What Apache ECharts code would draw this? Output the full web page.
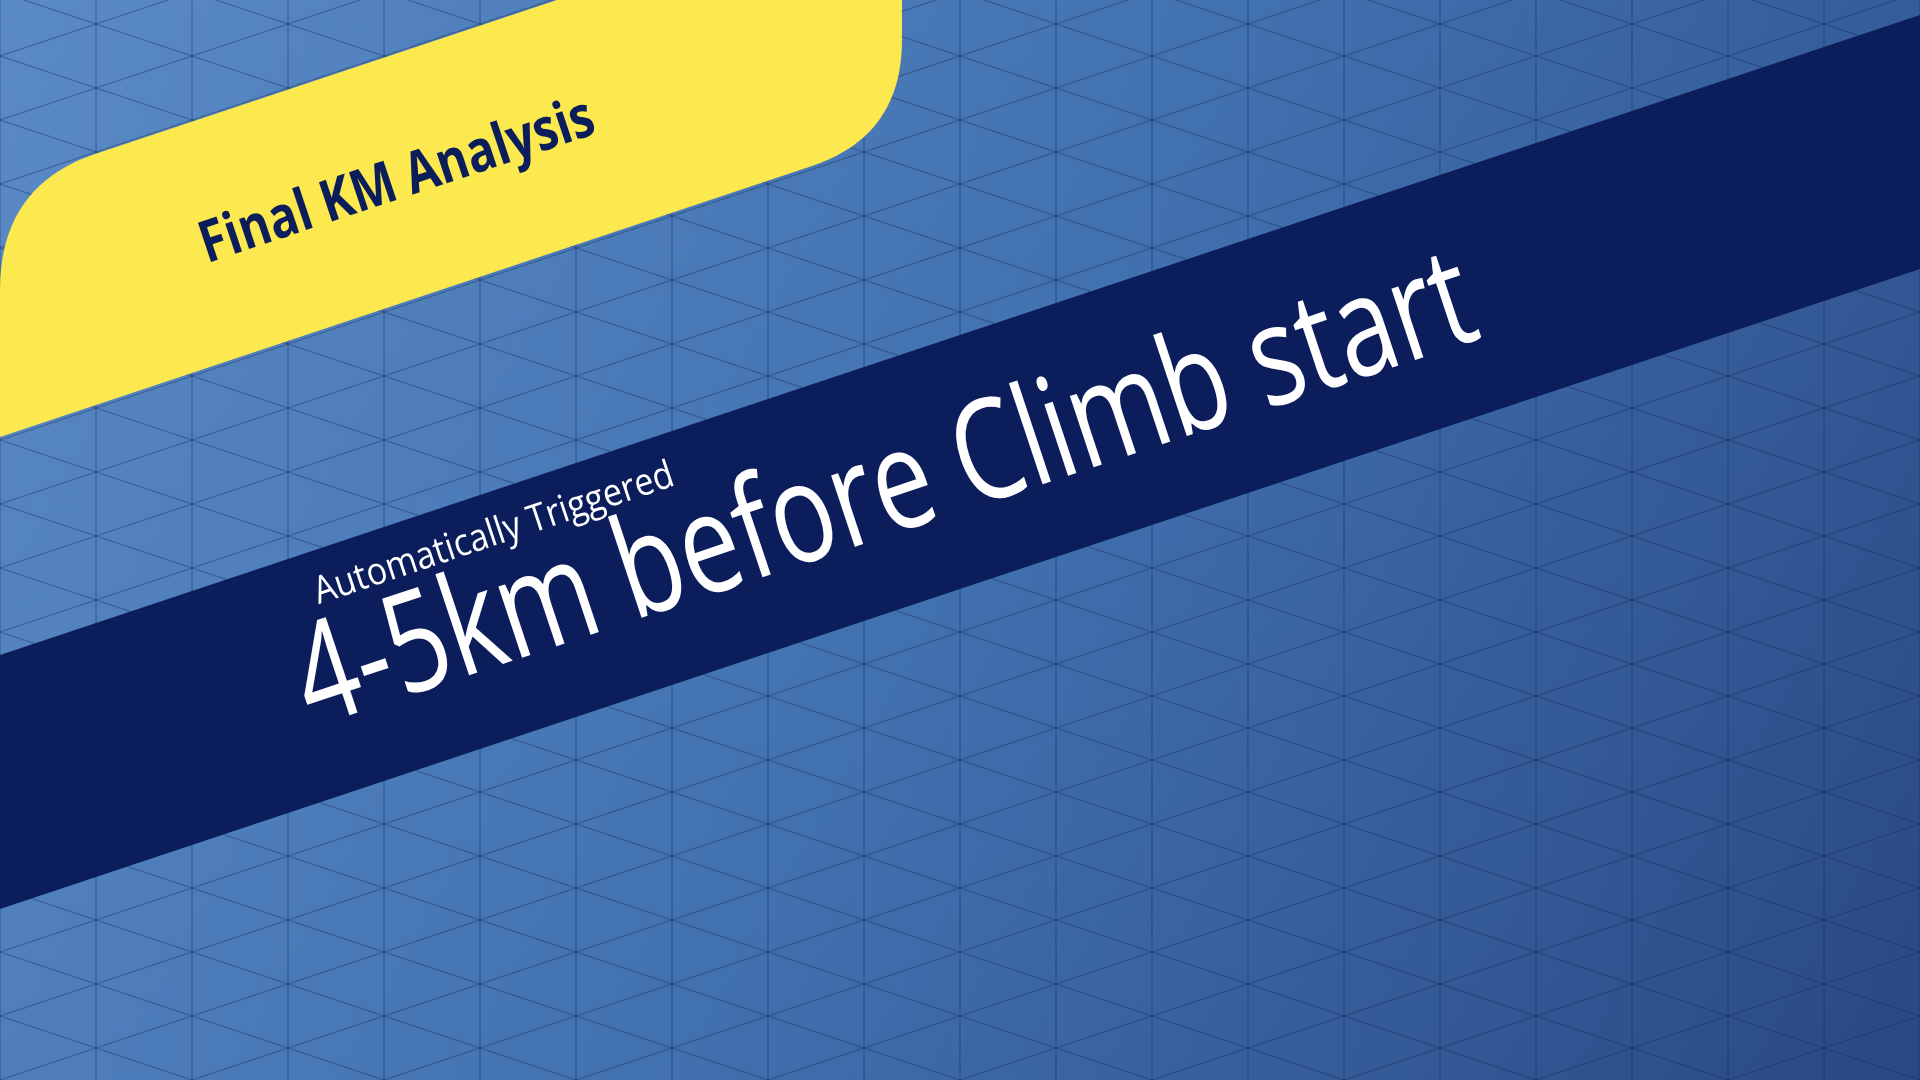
<!DOCTYPE html>
<html><head><meta charset="utf-8">
<script src="https://cdn.jsdelivr.net/npm/echarts@6/dist/echarts.min.js"></script>
<style>html,body{margin:0;padding:0;}#c{width:1920px;height:1080px;}</style>
</head><body><div id="c"></div>
<script>
const badgeText = ["Final KM Analysis"];
const subtitleText = ["Automatically Triggered"];
const headlineText = ["4-5km before Climb start"];

const W = 1920, H = 1080, ang = Math.atan(1/3);
const chart = echarts.init(document.getElementById('c'), null, {renderer:'canvas'});
const g = [];
g.push({type:'rect', shape:{x:0,y:0,width:W,height:H}, style:{fill:new echarts.graphic.LinearGradient(0,0,1,1,[{offset:0,color:'#5b8bc6'},{offset:0.5,color:'#4271b0'},{offset:1,color:'#294884'}])}});
const lc = 'rgba(25,45,90,0.35)';
for (let x = 0; x <= W; x += 96) g.push({type:'line', shape:{x1:x,y1:0,x2:x,y2:H}, style:{stroke:lc,lineWidth:1.5}});
for (let k = -40; k < 40; k++) {
  const b = 56 + 64*k;
  g.push({type:'line', shape:{x1:0,y1:b,x2:W,y2:b-W/3}, style:{stroke:lc,lineWidth:1.5}});
  g.push({type:'line', shape:{x1:0,y1:b,x2:W,y2:b+W/3}, style:{stroke:lc,lineWidth:1.5}});
}
g.push({type:'polygon', shape:{points:[[0,655],[W,15],[W,269],[0,909]]}, style:{fill:'#0b1d5a'}});
function quad(p0, c, p1) {
  const pts = [];
  for (let i = 0; i <= 20; i++) {
    const t = i/20, u = 1-t;
    pts.push([u*u*p0[0]+2*u*t*c[0]+t*t*p1[0], u*u*p0[1]+2*u*t*c[1]+t*t*p1[1]]);
  }
  return pts;
}
const yPts = [[0,437]].concat(quad([0,290],[0,186],[95,154]), [[557,0],[902,0]], quad([902,40],[902,136],[812,166]));
g.push({type:'polygon', shape:{points:yPts}, style:{fill:'#fbe94f'}});
g.push({type:'text', x:211, y:275, rotation:ang, scaleX:0.82, style:{text:badgeText[0], fill:'#0b1d5a', font:'bold 58px "Open Sans"', textVerticalAlign:'bottom'}});
g.push({type:'text', x:321, y:612, rotation:ang, scaleX:0.9, style:{text:subtitleText[0], fill:'#ffffff', font:'38px "Open Sans"', textVerticalAlign:'bottom'}});
g.push({type:'text', x:322, y:756, rotation:ang, scaleX:0.76, style:{text:headlineText[0], fill:'#ffffff', font:'140px "Open Sans"', textVerticalAlign:'bottom'}});
chart.setOption({animation:false, graphic:{elements:g}});
</script></body></html>
